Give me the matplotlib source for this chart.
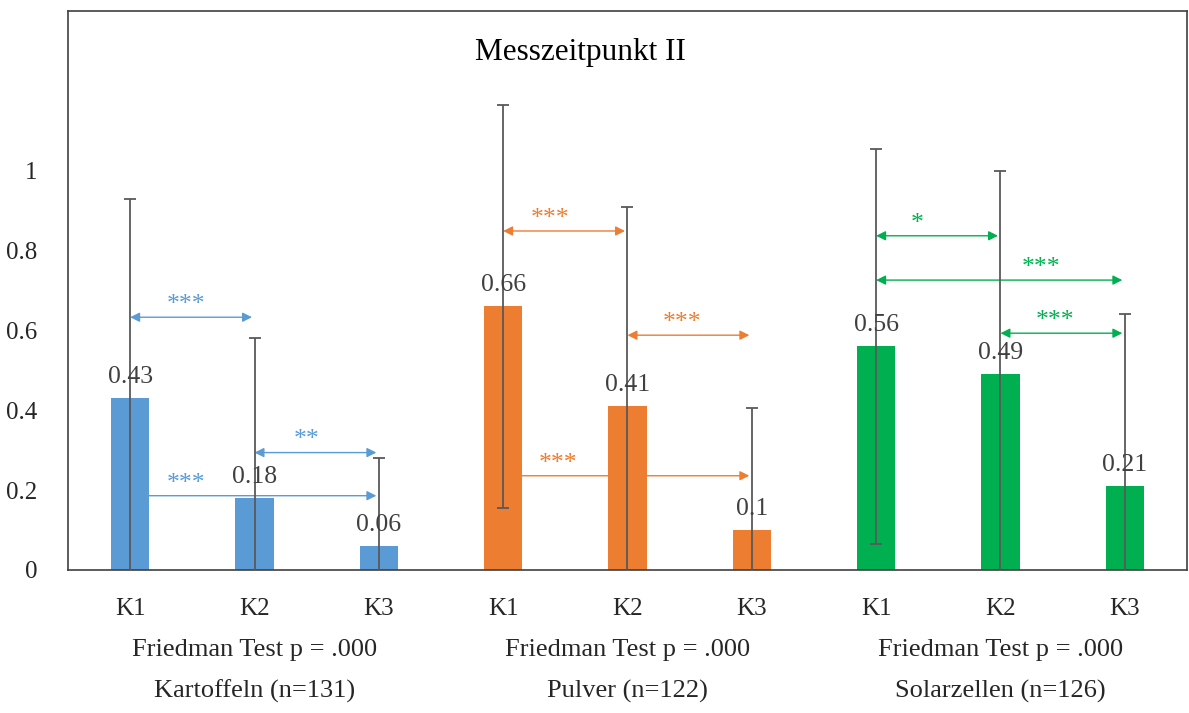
import matplotlib
matplotlib.use("Agg")
import matplotlib.pyplot as plt
import numpy as np

plt.rcParams['font.family'] = ['Liberation Serif', 'DejaVu Serif']

# data
cats = ["K1", "K2", "K3", "K1", "K2", "K3", "K1", "K2", "K3"]
means = [0.43, 0.18, 0.06, 0.66, 0.41, 0.10, 0.56, 0.49, 0.21]
sds = [0.50, 0.40, 0.22, 0.505, 0.50, 0.305, 0.495, 0.51, 0.43]
group_colors = ["#5B9BD5", "#ED7D31", "#00B050"]
groups = ["Kartoffeln (n=131)", "Pulver (n=122)", "Solarzellen (n=126)"]
friedman = ["Friedman Test p = .000"] * 3

# significance arrows: (from idx, to idx, y, stars, label x)
sig = [
    (0, 1, 0.633, "***", 0.45),
    (1, 2, 0.294, "**", 1.42),
    (0, 2, 0.186, "***", 0.45),
    (3, 4, 0.849, "***", 3.38),
    (4, 5, 0.588, "***", 4.44),
    (3, 5, 0.236, "***", 3.44),
    (6, 7, 0.837, "*", 6.33),
    (6, 8, 0.726, "***", 7.33),
    (7, 8, 0.593, "***", 7.44),
]

x = np.arange(len(cats))
colors = [group_colors[i // 3] for i in range(len(cats))]
group_centers = [x[i * 3 + 1] for i in range(len(groups))]

fig = plt.figure(figsize=(11.89, 7.13), dpi=100)
ax = fig.add_axes([0.0572, 0.2006, 0.9411, 0.784])

# arrows behind bars
for a, b, y, stars, lx in sig:
    c = group_colors[a // 3]
    ax.annotate("", xy=(b - 0.02, y), xytext=(a, y),
                arrowprops=dict(arrowstyle="<|-|>", color=c, lw=1.0,
                                mutation_scale=14, shrinkA=0, shrinkB=0),
                zorder=1)
    ax.text(lx, y + 0.003, stars, color=c, fontsize=18.5, ha="center", va="bottom", zorder=1)

ax.bar(x, means, width=0.31, color=colors, zorder=2)
ax.errorbar(x, means, yerr=sds, fmt="none", ecolor="#595959", elinewidth=1.3,
            capsize=4.5, capthick=1.3, zorder=3)

for xi, m in zip(x, means):
    ax.text(xi, m + 0.025, f"{m:g}", ha="center", va="bottom", fontsize=18.5, color="#404040", zorder=4)

ax.set_xlim(-0.5, len(cats) - 0.5)
ax.set_ylim(0, 1.4)
ax.set_yticks([0, 0.2, 0.4, 0.6, 0.8, 1])
ax.set_yticklabels(["0", "0.2", "0.4", "0.6", "0.8", "1"])
ax.set_xticks(x)
ax.set_xticklabels(cats)
ax.tick_params(axis="both", length=0, labelsize=18, colors="#262626")
ax.tick_params(axis="x", pad=20)
ax.tick_params(axis="y", pad=22)
for s in ax.spines.values():
    s.set_color("#404040")
    s.set_linewidth(1.2)

ax.text(0.4575, 0.925, "Messzeitpunkt II", transform=ax.transAxes, ha="center", va="center", fontsize=22.5)

for gx, ft, gl in zip(group_centers, friedman, groups):
    ax.text(gx, -0.2, ft, ha="center", va="center", fontsize=19, color="#262626")
    ax.text(gx, -0.305, gl, ha="center", va="center", fontsize=19, color="#262626")

fig.savefig("out.png", dpi=100)
